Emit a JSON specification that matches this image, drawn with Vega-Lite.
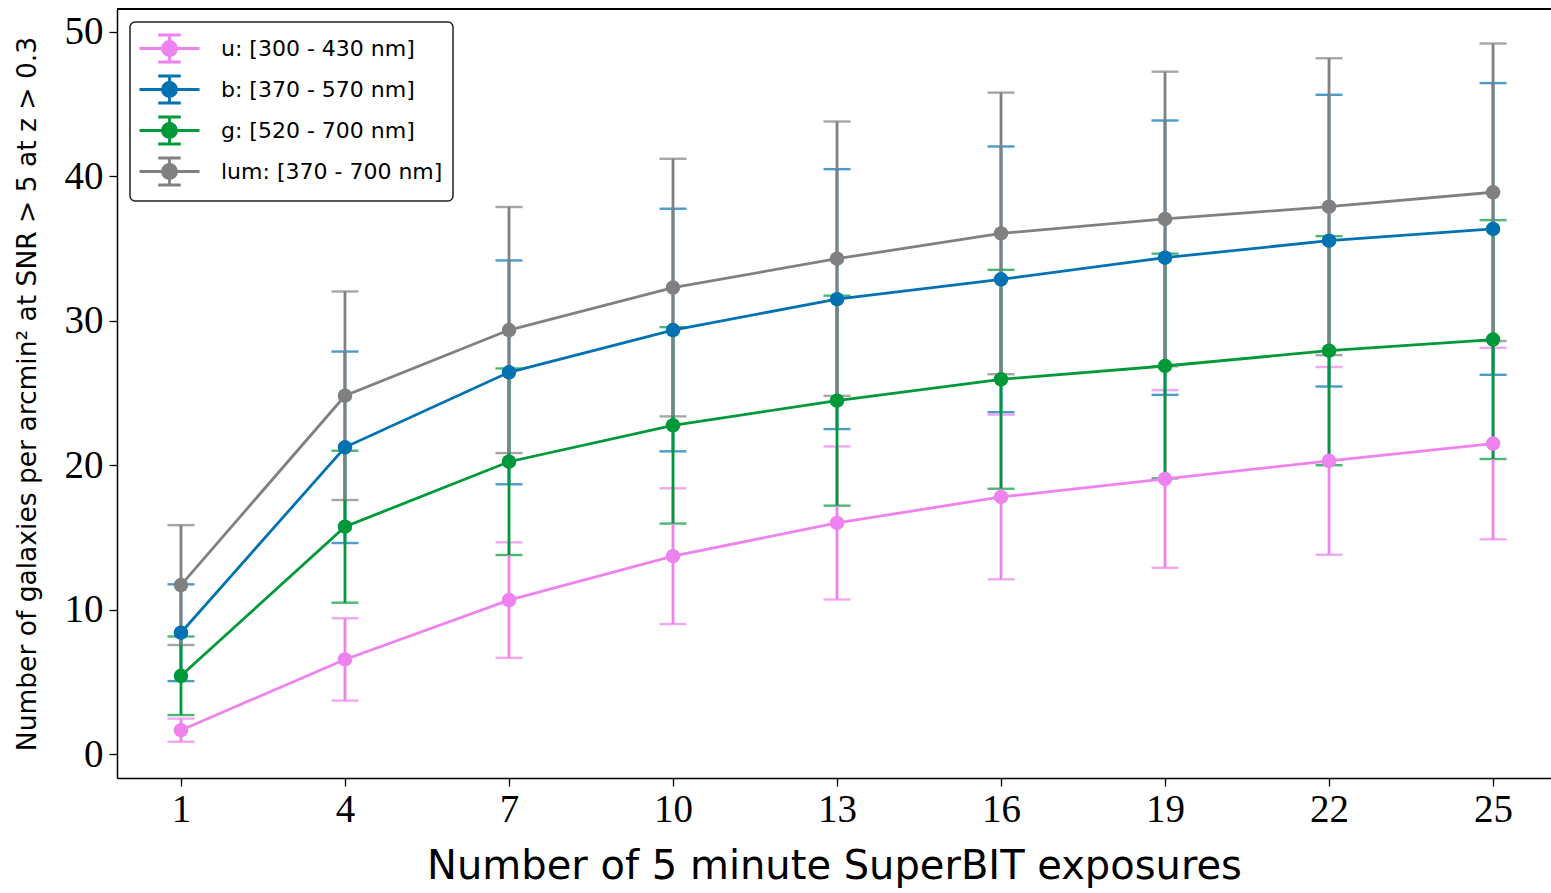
{
  "$schema": "https://vega.github.io/schema/vega-lite/v6.json",
  "autosize": "none",
  "width": 1434,
  "height": 769,
  "padding": {"left": 117, "top": 9, "right": 0, "bottom": 115},
  "background": "white",
  "config": {
    "view": {"stroke": null},
    "axis": {"grid": false, "domainColor": "#000", "domainWidth": 1.5, "tickColor": "#000", "tickWidth": 1.3, "tickSize": 8, "labelColor": "#000", "titleColor": "#000", "labelFont": "Liberation Serif", "labelFontSize": 39, "titleFont": "DejaVu Sans", "titleFontWeight": "normal"}
  },
  "data": {
    "values": [
      {"n": 1, "band": "u: [300 - 430 nm]", "v": 1.65, "e": 0.8},
      {"n": 4, "band": "u: [300 - 430 nm]", "v": 6.55, "e": 2.85},
      {"n": 7, "band": "u: [300 - 430 nm]", "v": 10.66, "e": 4.0},
      {"n": 10, "band": "u: [300 - 430 nm]", "v": 13.7, "e": 4.7},
      {"n": 13, "band": "u: [300 - 430 nm]", "v": 16.0, "e": 5.3},
      {"n": 16, "band": "u: [300 - 430 nm]", "v": 17.8, "e": 5.7},
      {"n": 19, "band": "u: [300 - 430 nm]", "v": 19.05, "e": 6.15},
      {"n": 22, "band": "u: [300 - 430 nm]", "v": 20.3, "e": 6.5},
      {"n": 25, "band": "u: [300 - 430 nm]", "v": 21.5, "e": 6.63},
      {"n": 1, "band": "b: [370 - 570 nm]", "v": 8.4, "e": 3.35},
      {"n": 4, "band": "b: [370 - 570 nm]", "v": 21.24, "e": 6.63},
      {"n": 7, "band": "b: [370 - 570 nm]", "v": 26.43, "e": 7.75},
      {"n": 10, "band": "b: [370 - 570 nm]", "v": 29.36, "e": 8.4},
      {"n": 13, "band": "b: [370 - 570 nm]", "v": 31.5, "e": 9.0},
      {"n": 16, "band": "b: [370 - 570 nm]", "v": 32.87, "e": 9.2},
      {"n": 19, "band": "b: [370 - 570 nm]", "v": 34.37, "e": 9.5},
      {"n": 22, "band": "b: [370 - 570 nm]", "v": 35.55, "e": 10.1},
      {"n": 25, "band": "b: [370 - 570 nm]", "v": 36.36, "e": 10.1},
      {"n": 1, "band": "g: [520 - 700 nm]", "v": 5.42, "e": 2.72},
      {"n": 4, "band": "g: [520 - 700 nm]", "v": 15.74, "e": 5.26},
      {"n": 7, "band": "g: [520 - 700 nm]", "v": 20.24, "e": 6.46},
      {"n": 10, "band": "g: [520 - 700 nm]", "v": 22.76, "e": 6.8},
      {"n": 13, "band": "g: [520 - 700 nm]", "v": 24.47, "e": 7.27},
      {"n": 16, "band": "g: [520 - 700 nm]", "v": 25.95, "e": 7.58},
      {"n": 19, "band": "g: [520 - 700 nm]", "v": 26.87, "e": 7.78},
      {"n": 22, "band": "g: [520 - 700 nm]", "v": 27.93, "e": 7.93},
      {"n": 25, "band": "g: [520 - 700 nm]", "v": 28.7, "e": 8.27},
      {"n": 1, "band": "lum: [370 - 700 nm]", "v": 11.7, "e": 4.15},
      {"n": 4, "band": "lum: [370 - 700 nm]", "v": 24.81, "e": 7.22},
      {"n": 7, "band": "lum: [370 - 700 nm]", "v": 29.36, "e": 8.52},
      {"n": 10, "band": "lum: [370 - 700 nm]", "v": 32.3, "e": 8.92},
      {"n": 13, "band": "lum: [370 - 700 nm]", "v": 34.3, "e": 9.5},
      {"n": 16, "band": "lum: [370 - 700 nm]", "v": 36.05, "e": 9.75},
      {"n": 19, "band": "lum: [370 - 700 nm]", "v": 37.05, "e": 10.2},
      {"n": 22, "band": "lum: [370 - 700 nm]", "v": 37.9, "e": 10.28},
      {"n": 25, "band": "lum: [370 - 700 nm]", "v": 38.9, "e": 10.3}
    ]
  },
  "layer": [
    {
      "encoding": {
        "x": {
          "field": "n", "type": "quantitative",
          "scale": {"domain": [-0.17, 26.06], "nice": false, "zero": false},
          "axis": {"values": [1, 4, 7, 10, 13, 16, 19, 22, 25], "title": "Number of 5 minute SuperBIT exposures", "titleFontSize": 40, "titleBaseline": "alphabetic", "titleY": 100, "labelPadding": 4, "labelFlush": false}
        },
        "color": {
          "field": "band", "type": "nominal",
          "scale": {
            "domain": ["u: [300 - 430 nm]", "b: [370 - 570 nm]", "g: [520 - 700 nm]", "lum: [370 - 700 nm]"],
            "range": ["#EE82EE", "#0072B2", "#00993A", "#808080"]
          },
          "legend": {
            "title": null,
            "orient": "none",
            "legendX": 13,
            "legendY": 13,
            "padding": 10,
            "fillColor": "white",
            "strokeColor": "#222",
            "cornerRadius": 5,
            "symbolType": "M-2,0H2M0,-0.9V0.9M-0.75,-0.9H0.75M-0.75,0.9H0.75M0.47,0A0.47,0.47 0 1,1 -0.47,0A0.47,0.47 0 1,1 0.47,0Z",
            "symbolSize": 900,
            "symbolOffset": 13,
            "symbolStrokeWidth": 2.5,
            "labelOffset": 35,
            "labelFont": "DejaVu Sans",
            "labelFontSize": 22,
            "labelColor": "#000",
            "labelLimit": 400,
            "rowPadding": 2,
            "encode": {
              "symbols": {
                "update": {
                  "fill": {"scale": "color", "field": "value"},
                  "stroke": {"scale": "color", "field": "value"},
                  "strokeWidth": {"value": 2.8},
                  "opacity": {"value": 1}
                }
              },
              "legend": {
                "update": {"strokeWidth": {"value": 1.5}}
              }
            }
          }
        }
      },
      "layer": [
        {
          "mark": {"type": "errorbar", "thickness": 2.8, "ticks": {"size": 27, "thickness": 2.4}, "rule": {"strokeWidth": 2.8}},
          "encoding": {
            "y": {
              "field": "v", "type": "quantitative",
              "scale": {"domain": [-1.66, 51.59], "nice": false, "zero": false},
              "axis": {"values": [0, 10, 20, 30, 40, 50], "title": "Number of galaxies per arcmin² at SNR > 5 at z > 0.3", "titleFontSize": 26.5, "titleBaseline": "alphabetic", "titleX": -82, "labelPadding": 6}
            },
            "yError": {"field": "e"}
          }
        },
        {
          "mark": {"type": "line", "strokeWidth": 2.8},
          "encoding": {"y": {"field": "v", "type": "quantitative"}}
        },
        {
          "mark": {"type": "circle", "size": 210, "opacity": 1},
          "encoding": {"y": {"field": "v", "type": "quantitative"}}
        }
      ]
    },
    {
      "mark": {"type": "rule", "color": "#000", "strokeWidth": 1.5},
      "encoding": {"y": {"datum": 51.59}}
    }
  ]
}
